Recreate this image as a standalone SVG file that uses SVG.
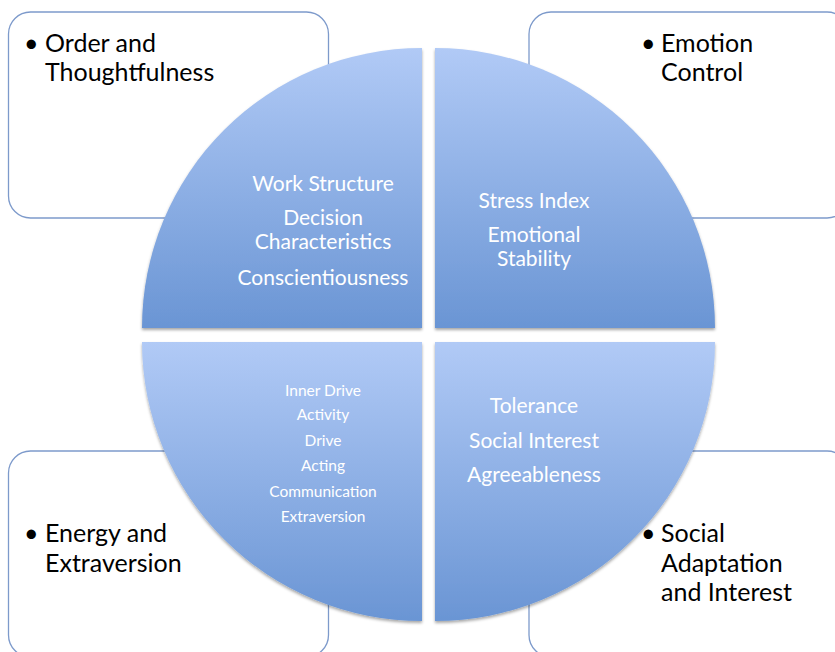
<svg xmlns="http://www.w3.org/2000/svg" width="835" height="652" viewBox="0 0 835 652">
<defs>
<linearGradient id="g" x1="0" y1="0" x2="0" y2="1">
<stop offset="0" stop-color="#b1caf6"/>
<stop offset="1" stop-color="#6a95d4"/>
</linearGradient>
<filter id="sh" x="-5%" y="-5%" width="110%" height="112%">
<feDropShadow dx="0" dy="2" stdDeviation="1.5" flood-color="#000" flood-opacity="0.35"/>
</filter>
<style>
.box{fill:#fff;stroke:#7d9acb;stroke-width:1.3}
.q{fill:url(#g);filter:url(#sh)}
.bt{font-family:Lato,"Open Sans","Liberation Sans",sans-serif;font-size:25px;fill:#000}
.qt{font-family:Lato,"Open Sans","Liberation Sans",sans-serif;font-size:21px;fill:#fff;text-anchor:middle}
.qs{font-family:Lato,"Open Sans","Liberation Sans",sans-serif;font-size:15.5px;fill:#fff;text-anchor:middle}
</style>
</defs>
<rect width="835" height="652" fill="#fff"/>
<g id="box-order">
<rect class="box" x="8.5" y="12" width="320" height="206" rx="22"/>
<text class="bt" x="24" y="52">•</text>
<text class="bt" x="45" y="52">Order and</text>
<text class="bt" x="45" y="81">Thoughtfulness</text>
</g>
<g id="box-emotion">
<rect class="box" x="529" y="12" width="320" height="206" rx="22"/>
<text class="bt" x="641" y="52">•</text>
<text class="bt" x="661" y="52">Emotion</text>
<text class="bt" x="661" y="81">Control</text>
</g>
<g id="box-energy">
<rect class="box" x="8.5" y="451" width="320" height="206" rx="22"/>
<text class="bt" x="24" y="542">•</text>
<text class="bt" x="45" y="542">Energy and</text>
<text class="bt" x="45" y="572">Extraversion</text>
</g>
<g id="box-social">
<rect class="box" x="529" y="451" width="320" height="206" rx="22"/>
<text class="bt" x="641" y="542">•</text>
<text class="bt" x="661" y="542">Social</text>
<text class="bt" x="661" y="572">Adaptation</text>
<text class="bt" x="661" y="601">and Interest</text>
</g>
<g id="q-conscientiousness">
<path class="q" d="M422,328 L142,328 A280,280 0 0,1 422,48 Z"/>
<text class="qt" x="323" y="191">Work Structure</text>
<text class="qt" x="323" y="225">Decision</text>
<text class="qt" x="323" y="249">Characteristics</text>
<text class="qt" x="323" y="285">Conscientiousness</text>
</g>
<g id="q-stability">
<path class="q" d="M435,328 L435,48 A280,280 0 0,1 715,328 Z"/>
<text class="qt" x="534" y="208">Stress Index</text>
<text class="qt" x="534" y="242">Emotional</text>
<text class="qt" x="534" y="266">Stability</text>
</g>
<g id="q-extraversion">
<path class="q" d="M422,342 L422,621 A280,279 0 0,1 142,342 Z"/>
<text class="qs" x="323" y="396">Inner Drive</text>
<text class="qs" x="323" y="420">Activity</text>
<text class="qs" x="323" y="446">Drive</text>
<text class="qs" x="323" y="471">Acting</text>
<text class="qs" x="323" y="497">Communication</text>
<text class="qs" x="323" y="522">Extraversion</text>
</g>
<g id="q-agreeableness">
<path class="q" d="M435,342 L715,342 A280,279 0 0,1 435,621 Z"/>
<text class="qt" x="534" y="413">Tolerance</text>
<text class="qt" x="534" y="448">Social Interest</text>
<text class="qt" x="534" y="482">Agreeableness</text>
</g>
<g id="connectors"></g>
</svg>
